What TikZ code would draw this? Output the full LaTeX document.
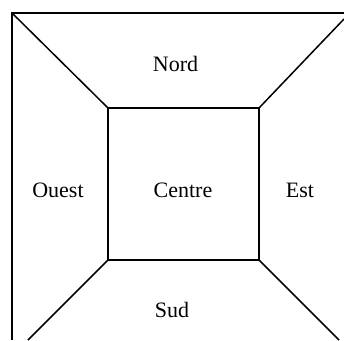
\documentclass[tikz,border=0pt]{standalone}
\usepackage{fontspec}
\setmainfont{Liberation Serif}
\begin{document}
\begin{tikzpicture}[x=1pt,y=-1pt,
  edge/.style={line width=1.5pt,black},
  lbl/.style={font=\fontsize{22}{26}\selectfont,anchor=base,inner sep=0pt}]
\useasboundingbox (0,0) rectangle (344,340);
\coordinate (otl) at (12,13);
\coordinate (otr) at (344,13);
\coordinate (obl) at (12,340);
\coordinate (itl) at (108,108);
\coordinate (itr) at (259,108);
\coordinate (ibl) at (108,260);
\coordinate (ibr) at (259,260);
\coordinate (etr) at (344,19);
\coordinate (ebl) at (28,340);
\coordinate (ebr) at (339,340);
\draw[edge] (obl) -- (otl) -- (otr);
\draw[edge] (itl) rectangle (ibr);
\draw[edge] (otl) -- (itl);
\draw[edge] (itr) -- (etr);
\draw[edge] (ibl) -- (ebl);
\draw[edge] (ibr) -- (ebr);
\node[lbl] (nord) at (175.5,71) {Nord};
\node[lbl] (ouest) at (58,197) {Ouest};
\node[lbl] (centre) at (183,197) {Centre};
\node[lbl] (est) at (300,197) {Est};
\node[lbl] (sud) at (172,317) {Sud};
\end{tikzpicture}
\end{document}
